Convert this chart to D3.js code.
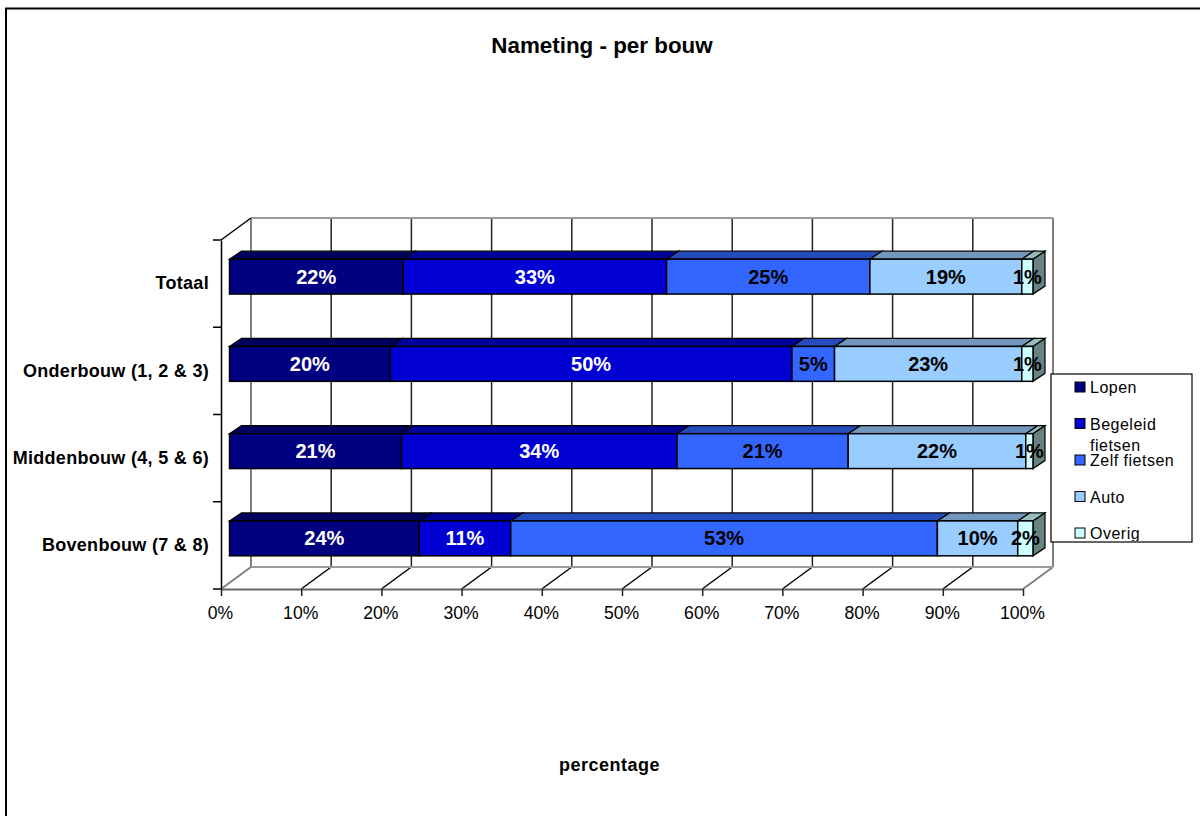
<!DOCTYPE html>
<html>
<head>
<meta charset="utf-8">
<title>Nameting - per bouw</title>
<script src="https://cdn.jsdelivr.net/npm/d3@7"></script>
<style>
    html, body { margin: 0; padding: 0; background: #fff; overflow: hidden; }
    svg { display: block; }
    text { font-family: "Liberation Sans", Arial, sans-serif; }
</style>
</head>
<body>
<div id="chart"></div>
<script>
// values
const categories = ['Totaal', 'Onderbouw (1, 2 & 3)', 'Middenbouw (4, 5 & 6)', 'Bovenbouw (7 & 8)'];
const seriesNames = ['Lopen', 'Begeleid fietsen', 'Zelf fietsen', 'Auto', 'Overig'];
const lopen = [21.6, 20.0, 21.4, 23.6];
const begeleid = [32.8, 50.0, 34.3, 11.4];
const zelf = [25.3, 5.3, 21.3, 53.1];
const auto = [18.9, 23.3, 22.1, 10.0];
const overig = [1.4, 1.4, 0.9, 1.9];
const seriesValues = [lopen, begeleid, zelf, auto, overig];
const tickValues = [0, 10, 20, 30, 40, 50, 60, 70, 80, 90, 100];

const colors = ['#000080', '#0000d2', '#3366ff', '#99ccff', '#ccffff'];
const labelColors = ['#fff', '#fff', '#000', '#000', '#000'];

const width = 1200, height = 816;
// floor/back wall offset and bar depth offset of the fake 3d look
const depth = {x: 30, y: -22};
const barDepth = {x: 12, y: -8};
const barShift = {x: 8.5, y: -7};

const svg = d3.select('#chart').append('svg')
    .attr('width', width)
    .attr('height', height);

// outer frame, the bottom and right run off the picture
svg.append('path')
    .attr('d', 'M6,816V8.5H1200')
    .attr('fill', 'none')
    .attr('stroke', '#000')
    .attr('stroke-width', 2);

const xScale = d3.scaleLinear().domain([0, 100]).range([221, 1023]);
const yScale = d3.scaleBand().domain(categories).range([240, 589])
    .paddingInner(0.6).paddingOuter(0.3);

// title and axis title
svg.append('text')
    .attr('x', 602).attr('y', 53)
    .attr('text-anchor', 'middle')
    .style('font-size', '22.4px').style('font-weight', 'bold')
    .text('Nameting - per bouw');

svg.append('text')
    .attr('x', 609.5).attr('y', 771)
    .attr('text-anchor', 'middle')
    .style('font-size', '18px').style('font-weight', 'bold')
    .style('letter-spacing', '0.5px')
    .text('percentage');

// back wall and floor
const walls = svg.append('g').attr('fill', 'none');
const yTop = 240, yBottom = 589;

tickValues.forEach(t => {
    const edge = t === 0 || t === 100;
    walls.append('line')
        .attr('x1', xScale(t) + depth.x).attr('x2', xScale(t) + depth.x)
        .attr('y1', yTop + depth.y).attr('y2', yBottom + depth.y)
        .attr('stroke', edge ? '#808080' : '#222')
        .attr('stroke-width', edge ? 2 : 1.5);
    walls.append('line')
        .attr('x1', xScale(t)).attr('x2', xScale(t) + depth.x)
        .attr('y1', yBottom).attr('y2', yBottom + depth.y)
        .attr('stroke', edge ? '#808080' : '#000')
        .attr('stroke-width', edge ? 2 : 1.5);
});

walls.append('line')
    .attr('x1', xScale(0) + depth.x).attr('x2', xScale(100) + depth.x)
    .attr('y1', yTop + depth.y).attr('y2', yTop + depth.y)
    .attr('stroke', '#999').attr('stroke-width', 2);
walls.append('line')
    .attr('x1', xScale(0) + depth.x).attr('x2', xScale(100) + depth.x)
    .attr('y1', yBottom + depth.y).attr('y2', yBottom + depth.y)
    .attr('stroke', '#999').attr('stroke-width', 2);
walls.append('line')
    .attr('x1', xScale(0)).attr('x2', xScale(0) + depth.x)
    .attr('y1', yTop).attr('y2', yTop + depth.y)
    .attr('stroke', '#000').attr('stroke-width', 1.5);

// axes
const xAxis = svg.append('g')
    .attr('transform', `translate(0,${yBottom})`)
    .call(d3.axisBottom(xScale)
        .tickValues(tickValues)
        .tickFormat(d => d + '%')
        .tickSize(7)
        .tickSizeOuter(0));
xAxis.select('.domain').attr('stroke', '#666').attr('stroke-width', 2);
xAxis.selectAll('.tick line').attr('stroke', '#222').attr('stroke-width', 1.5);
xAxis.selectAll('text')
    .attr('x', -1)
    .attr('y', 18)
    .style('font-size', '17.6px')
    .style('font-family', '"Liberation Sans", Arial, sans-serif')
    .attr('fill', '#000');

const yAxis = svg.append('g')
    .attr('transform', `translate(${xScale(0)},0)`)
    .call(d3.axisLeft(yScale).tickSize(0).tickPadding(12));
yAxis.select('.domain').attr('stroke', '#000').attr('stroke-width', 1.5);
yAxis.selectAll('text')
    .style('font-size', '18px')
    .style('font-weight', 'bold')
    .style('font-family', '"Liberation Sans", Arial, sans-serif')
    .style('letter-spacing', '0.3px')
    .attr('fill', '#000');

// the category ticks sit between the bars
const yTicks = categories.map(c => yScale(c) - yScale.step() * 0.3).concat([yBottom]);
svg.append('g').selectAll('line')
    .data(yTicks)
    .enter()
    .append('line')
    .attr('x1', xScale(0) - 8).attr('x2', xScale(0))
    .attr('y1', d => d).attr('y2', d => d)
    .attr('stroke', '#000').attr('stroke-width', 1.5);

// stacked bars
const rows = categories.map((name, i) => {
    const row = {name};
    seriesNames.forEach((s, j) => { row[s] = seriesValues[j][i]; });
    return row;
});
const stacked = d3.stack().keys(seriesNames)(rows);

const barScale = xScale.copy().range([xScale(0) + barShift.x, xScale(100) + barShift.x + 1.5]);
const bars = svg.append('g');

stacked.forEach((layer, s) => {
    const g = bars.append('g');
    const base = d3.color(colors[s]);

    layer.forEach(d => {
        const x0 = barScale(d[0]), x1 = barScale(d[1]);
        const top = yScale(d.data.name) + barShift.y;
        const h = yScale.bandwidth();

        // top face
        g.append('path')
            .attr('d', `M${x0},${top}l${barDepth.x},${barDepth.y}H${x1 + barDepth.x}L${x1},${top}Z`)
            .attr('fill', base.darker(0.85))
            .attr('stroke', '#000').attr('stroke-width', 1.2);

        // end of the bar, only the last series shows it
        if (s === seriesNames.length - 1) {
            g.append('path')
                .attr('d', `M${x1},${top}l${barDepth.x},${barDepth.y}v${h}l${-barDepth.x},${-barDepth.y}Z`)
                .attr('fill', base.darker(1.9))
                .attr('stroke', '#000').attr('stroke-width', 1.2);
        }

        // front face
        g.append('rect')
            .attr('x', x0).attr('y', top)
            .attr('width', x1 - x0).attr('height', h)
            .attr('fill', colors[s])
            .attr('stroke', '#000').attr('stroke-width', 1.5);
    });
});

// value labels go on top of every bar
stacked.forEach((layer, s) => {
    svg.append('g').selectAll('text')
        .data(layer)
        .enter()
        .append('text')
        .attr('x', d => (barScale(d[0]) + barScale(d[1])) / 2)
        .attr('y', d => yScale(d.data.name) + barShift.y + yScale.bandwidth() / 2 + 7)
        .attr('text-anchor', 'middle')
        .attr('fill', labelColors[s])
        .style('font-size', '20px')
        .style('font-weight', 'bold')
        .text(d => Math.round(d[1] - d[0]) + '%');
});

// legend
svg.append('clipPath').attr('id', 'legend-clip')
    .append('rect')
    .attr('x', 1051).attr('y', 374)
    .attr('width', 141).attr('height', 167);

svg.append('rect')
    .attr('x', 1051).attr('y', 374)
    .attr('width', 141).attr('height', 168)
    .attr('fill', '#fff')
    .attr('stroke', '#000').attr('stroke-width', 1.2);

const legendScale = d3.scalePoint().domain(seriesNames).range([387, 533]);
const legend = svg.append('g').attr('clip-path', 'url(#legend-clip)')
    .selectAll('g')
    .data(seriesNames)
    .enter()
    .append('g')
    .attr('transform', d => `translate(1075,${legendScale(d)})`);

legend.append('rect')
    .attr('y', -5).attr('width', 10).attr('height', 10)
    .attr('fill', (d, i) => colors[i])
    .attr('stroke', '#000').attr('stroke-width', 1);

legend.append('text')
    .attr('x', 15).attr('y', 6)
    .style('font-size', '16px')
    .style('letter-spacing', '0.5px')
    .text(d => d === 'Begeleid fietsen' ? 'Begeleid' : d);

legend.filter(d => d === 'Begeleid fietsen').append('text')
    .attr('x', 15).attr('y', 27)
    .style('font-size', '16px')
    .style('letter-spacing', '0.5px')
    .text('fietsen');
</script>
</body>
</html>
